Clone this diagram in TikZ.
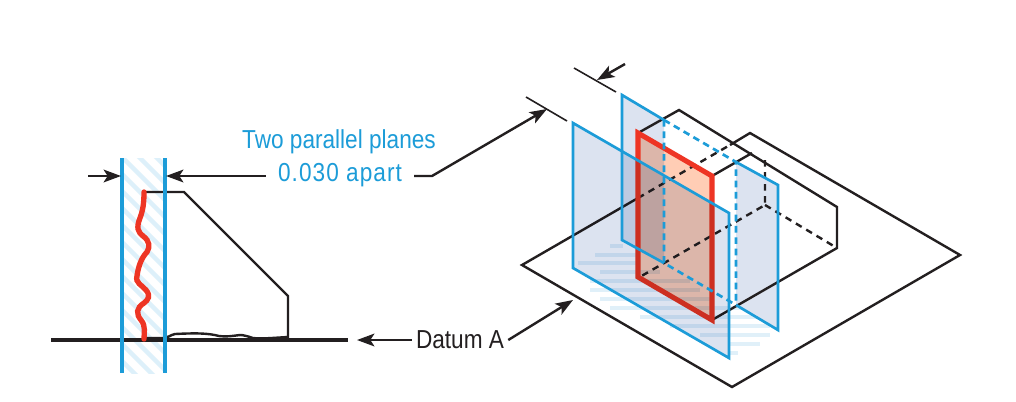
\documentclass[tikz,border=0pt]{standalone}
\usepackage{fontspec}
\setmainfont[FakeStretch=0.87]{Liberation Sans}
\usetikzlibrary{arrows.meta}
\definecolor{planeblue}{HTML}{1C9CD8}
\definecolor{planefill}{HTML}{DCE3F0}
\definecolor{hatchblue}{HTML}{DDF0FA}
\definecolor{stripeblue}{HTML}{E0F0F9}
\definecolor{surfred}{HTML}{EE3524}
\definecolor{surffill}{HTML}{FFCDB5}
\definecolor{inkblack}{HTML}{231F20}
\tikzset{
  edgeline/.style={inkblack,line width=1.8pt,line join=miter},
  hiddenline/.style={edgeline,dash pattern=on 5pt off 4pt},
  planeline/.style={planeblue,line width=2pt,line join=miter},
  planehidden/.style={planeline,dash pattern=on 5pt off 3.5pt},
  witness/.style={inkblack,line width=1.2pt},
  dimline/.style={inkblack,line width=1.8pt,-{Stealth[length=13pt,width=9.5pt,inset=3pt]}},
  bluelabel/.style={text=planeblue,font=\fontsize{19.5pt}{22pt}\selectfont,inner xsep=9pt,inner ysep=0pt},
  blacklabel/.style={text=inkblack,font=\fontsize{19.5pt}{22pt}\selectfont,inner xsep=3pt,inner ysep=0pt}
}
\begin{document}
\begin{tikzpicture}[x=.75pt,y=-.75pt]
\useasboundingbox (0,0) rectangle (1016,401);
\fill[white] (0,0) rectangle (1016,401);

% left view, tolerance band
\begin{scope}
\clip (122,158) rectangle (165,373);
\foreach \hy in {94,111,...,390}
  \draw[hatchblue,line width=3.4pt] (110,\hy) -- (180,\hy+70);
\end{scope}
\draw[edgeline] (145,192) -- (184,192) -- (288,296) -- (288,337)
  .. controls (270,338) and (262,339) .. (253,338)
  .. controls (247,336) and (243,335) .. (240,335)
  .. controls (232,336) and (226,337) .. (219,336)
  .. controls (208,333) and (195,333) .. (175,334)
  .. controls (170,335) and (168,338) .. (164,338) -- (145,338);
\draw[inkblack,line width=2.4pt] (51,340) -- (348,340);
\draw[planeblue,line width=2.8pt] (122,158) -- (122,373);
\draw[planeblue,line width=2.8pt] (165,158) -- (165,373);
\draw[surfred,line width=4pt,line cap=round] (144,192)
  .. controls (144,203) and (143,210) .. (140,218)
  .. controls (136,228) and (138,232) .. (143,236)
  .. controls (150,241) and (150,247) .. (147,252)
  .. controls (141,258) and (138,268) .. (137,276)
  .. controls (135,283) and (142,285) .. (146,290)
  .. controls (151,296) and (148,300) .. (144,303)
  .. controls (136,308) and (136,314) .. (141,320)
  .. controls (146,326) and (144,333) .. (144,339);

% shadow on the datum plane
\foreach \sy/\sa/\sb in {246/610/623,255/595/638,263/578/640,272/600/660,281/590/690,
  290/590/700,299/600/712,308/610/745,317/640/765,326/670/770,335/700/770,344/729/760,353/729/738}
  \draw[stripeblue,line width=2.8pt] (\sa,\sy) -- (\sb,\sy);

% back plane
\fill[planefill] (622,95) -- (664,120) -- (664,263) -- (622,240) -- cycle;
\fill[planefill] (736,162) -- (778,185) -- (778,330) -- (736,305) -- cycle;
% surface between the planes
\fill[surffill,blend mode=multiply] (638,133) -- (712,176) -- (712,320) -- (638,277) -- cycle;

% datum plane and part
\draw[edgeline] (730,145) -- (750,133) -- (960,255) -- (732,387) -- (522,265) -- (638,198);
\draw[hiddenline] (638,198) -- (730,145);
\draw[edgeline] (638,133) -- (679,110) -- (837,207) -- (837,248) -- (712,320);
\draw[edgeline] (712,176) -- (752,153);
\draw[hiddenline] (765,160) -- (765,205) -- (638,278);
\draw[hiddenline] (765,205) -- (837,248);

\draw[surfred,line width=3.8pt,line join=miter] (638,133) -- (712,176) -- (712,320) -- (638,277) -- cycle;

% front plane
\fill[planefill,blend mode=multiply] (573,123) -- (729,213) -- (729,358) -- (573,268) -- cycle;

% back plane outline
\draw[planeline] (664,120) -- (622,95) -- (622,240) -- (664,263);
\draw[planeline] (736,162) -- (778,185) -- (778,330) -- (736,305);
\draw[planehidden] (664,120) -- (736,162) -- (736,305);
\draw[planehidden] (664,120) -- (664,263) -- (736,305);
% front plane outline
\draw[planeline] (573,123) -- (729,213) -- (729,358) -- (573,268) -- cycle;

% labels
\node[bluelabel] (twoplanes) at (339,142) {Two parallel planes};
\node[bluelabel] (apart) at (340,175) {\addfontfeatures{LetterSpace=4}0.030 apart};
\node[blacklabel] (datum) at (460,340) {Datum A};

\coordinate (bandleft) at (121,176);
\coordinate (bandright) at (166,176);
\coordinate (bandtail) at (88,176);
\coordinate (elbow) at (432,176);
\coordinate (witnessfront) at (547,109);
\coordinate (witnessback) at (597,80);
\coordinate (witnesstail) at (625,64);
\coordinate (datumline) at (357,340);
\coordinate (datumplane) at (573,300);

\draw[dimline] (bandtail) -- (bandleft);
\draw[dimline] (apart.west |- bandright) -- (bandright);
\draw[dimline] (apart.east |- elbow) -- (elbow) -- (witnessfront);
\draw[witness] (526,97) -- (567,121);
\draw[witness] (574,68) -- (616,92);
\draw[dimline] (witnesstail) -- (witnessback);
\draw[dimline] (datum.west) -- (datumline);
\draw[dimline] (datum.east) -- (datumplane);
\end{tikzpicture}
\end{document}
